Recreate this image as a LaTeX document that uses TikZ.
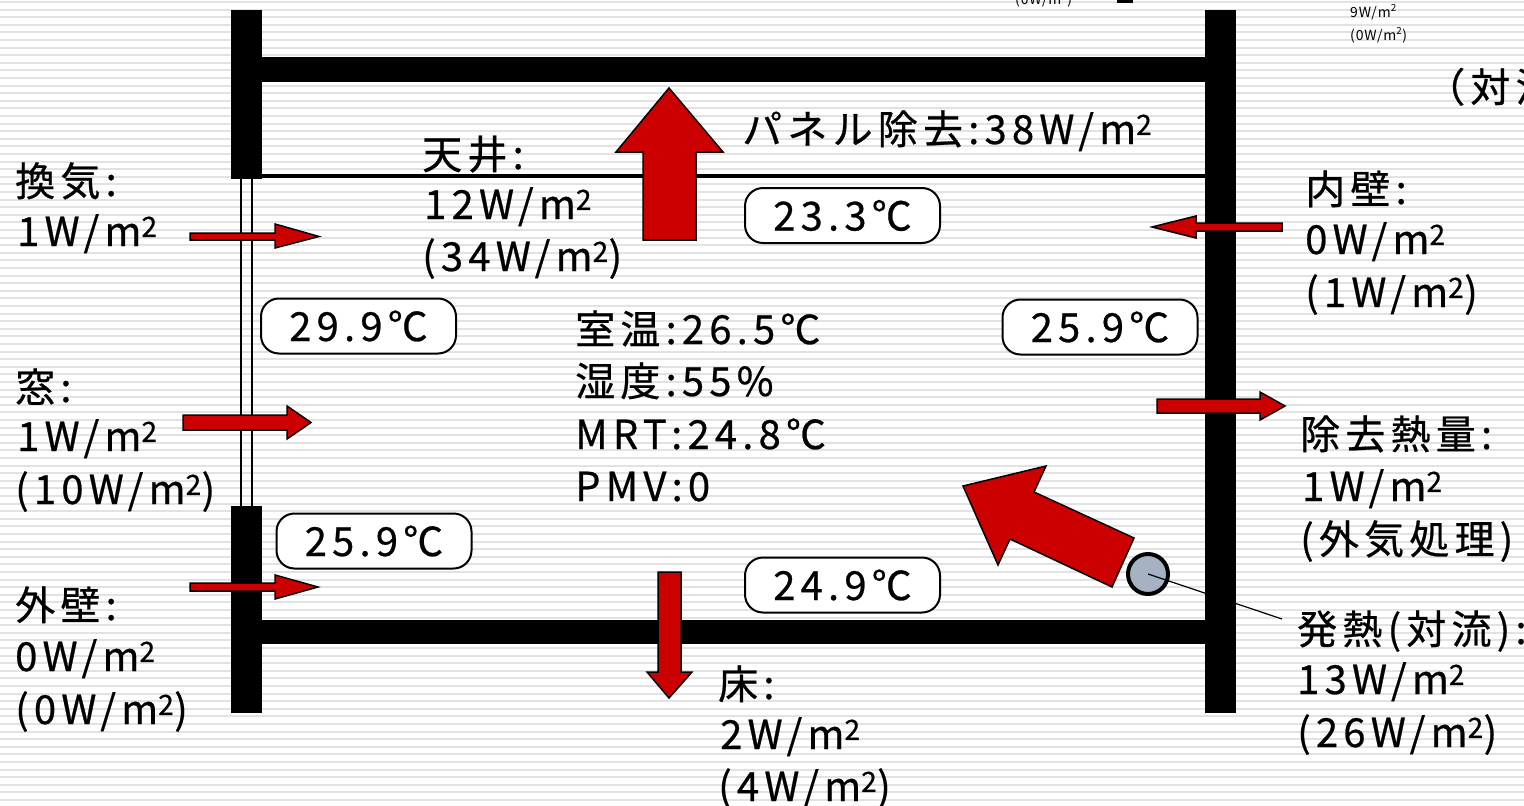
\documentclass[tikz,border=0pt]{standalone}
\usepackage{fontspec}
\newfontfamily\jp{Noto Sans CJK JP}[LetterSpace=13,FakeBold=0.6]
\newfontfamily\jpsmall{Noto Sans CJK JP}[LetterSpace=6]
\definecolor{arrowred}{RGB}{204,0,0}
\definecolor{stripe}{RGB}{226,226,226}
\definecolor{circfill}{RGB}{166,178,194}
\newcommand\sqm{m\textsuperscript{2}}
\begin{document}
\begin{tikzpicture}[x=1pt,y=-1pt,
  lbl/.style={anchor=base west, inner sep=0pt, font=\jp\fontsize{40}{48}\selectfont},
  small/.style={anchor=base west, inner sep=0pt, font=\jpsmall\fontsize{14}{17}\selectfont},
  temp/.style={draw, line width=2pt, rounded corners=18pt, minimum width=195pt, minimum height=55pt, inner sep=0pt, fill=white, font=\jp\fontsize{40}{48}\selectfont},
  wall/.style={fill=black},
  blockarrow/.style={fill=arrowred, draw=black, line width=1.5pt, line join=miter},
  winline/.style={draw=black, line width=2.5pt}]
\useasboundingbox (0,0) rectangle (1524,806);
\clip (0,0) rectangle (1524,806);
% background stripes
\fill[white] (0,0) rectangle (1524,806);
\foreach \i in {0,...,106} \fill[stripe] (0,{1+7.6*\i}) rectangle (1524,{2.9+7.6*\i});
% walls and slabs
\fill[wall] (231,10) rectangle (262,179);
\fill[wall] (231,506) rectangle (262,713);
\fill[wall] (1205,10) rectangle (1236,713);
\fill[wall] (262,57) rectangle (1205,82);
\fill[wall] (262,620) rectangle (1205,644);
\fill[wall] (262,174) rectangle (1205,178);
% window
\coordinate (w1t) at (241,179); \coordinate (w1b) at (241,506);
\coordinate (w2t) at (252,179); \coordinate (w2b) at (252,506);
\draw[winline] (w1t) -- (w1b);
\draw[winline] (w2t) -- (w2b);
% block arrows
\draw[blockarrow] (643,240) -- (643,152) -- (616,152) -- (669,88) -- (723,152) -- (696,152) -- (696,240) -- cycle;
\draw[blockarrow] (658,572) -- (681,572) -- (681,672) -- (692,672) -- (669,698) -- (647,672) -- (658,672) -- cycle;
\draw[blockarrow] (190,233) -- (275,233) -- (275,224) -- (319,236.5) -- (275,248) -- (275,240) -- (190,240) -- cycle;
\draw[blockarrow] (183,415) -- (287,415) -- (287,406) -- (311,422.5) -- (287,439) -- (287,430) -- (183,430) -- cycle;
\draw[blockarrow] (190,583) -- (275,583) -- (275,575) -- (318,587) -- (275,599) -- (275,591) -- (190,591) -- cycle;
\draw[blockarrow] (1282,223) -- (1196,223) -- (1196,216) -- (1152,227) -- (1196,238) -- (1196,231) -- (1282,231) -- cycle;
\draw[blockarrow] (1157,399) -- (1260,399) -- (1260,392) -- (1285,406) -- (1260,420) -- (1260,413) -- (1157,413) -- cycle;
\draw[blockarrow] (963,486) -- (1046,466) -- (1034,492) -- (1134,538) -- (1112,587) -- (1010,539) -- (998,565) -- cycle;
% heat source
\node[circle, draw=black, line width=4pt, fill=circfill, minimum size=40pt, inner sep=0pt] (heat) at (1148,574) {};
\coordinate (leaderend) at (1282,619);
\draw[line width=1.2pt] (heat.center) -- (leaderend);
% temperature boxes
\node[temp] (tceil) at (842.5,215.5) {23.3℃};
\node[temp] (twin) at (358.5,326) {29.9℃};
\node[temp] (tin) at (1100,327) {25.9℃};
\node[temp] (tout) at (374,541) {25.9℃};
\node[temp] (tfloor) at (842.5,585) {24.9℃};
% labels left
\node[lbl] (vent1) at (15,196) {換気:};
\node[lbl] (vent2) at (17,246) {1W/\sqm};
\node[lbl] (win1) at (15,402) {窓:};
\node[lbl] (win2) at (17,451) {1W/\sqm};
\node[lbl] (win3) at (15,504) {(10W/\sqm)};
\node[lbl] (ow1) at (15,620) {外壁:};
\node[lbl] (ow2) at (15,671) {0W/\sqm};
\node[lbl] (ow3) at (15,724) {(0W/\sqm)};
% ceiling
\node[lbl] (c1) at (422,169) {天井:};
\node[lbl] (c2) at (424,219) {12W/\sqm};
\node[lbl] (c3) at (422,271) {(34W/\sqm)};
\node[lbl] (panel) at (742,144) {パネル除去:38W/\sqm};
% centre
\node[lbl] (room1) at (575,344) {室温:26.5℃};
\node[lbl] (room2) at (575,396) {湿度:55\%};
\node[lbl] (room3) at (575,449) {MRT:24.8℃};
\node[lbl] (room4) at (575,501) {PMV:0};
% right
\node[lbl] (iw1) at (1305,204) {内壁:};
\node[lbl] (iw2) at (1305,254) {0W/\sqm};
\node[lbl] (iw3) at (1305,307) {(1W/\sqm)};
\node[lbl] (rm1) at (1300,449) {除去熱量:};
\node[lbl] (rm2) at (1302,501) {1W/\sqm};
\node[lbl] (rm3) at (1300,554) {(外気処理)};
\node[lbl] (hs1) at (1297,644) {発熱(対流):};
\node[lbl] (hs2) at (1297,694) {13W/\sqm};
\node[lbl] (hs3) at (1297,747) {(26W/\sqm)};
% floor
\node[lbl] (f1) at (718,699) {床:};
\node[lbl] (f2) at (720,749) {2W/\sqm};
\node[lbl] (f3) at (718,801) {(4W/\sqm)};
% cut-off items at top
\node[small] (top1) at (1015,4) {(0W/\sqm)};
\fill (1117,0) rectangle (1133,2.5);
\node[small] (top2) at (1350,17) {9W/\sqm};
\node[small] (top3) at (1350,40) {(0W/\sqm)};
\node[lbl] (top4) at (1425,102) {（対流};
\end{tikzpicture}
\end{document}
